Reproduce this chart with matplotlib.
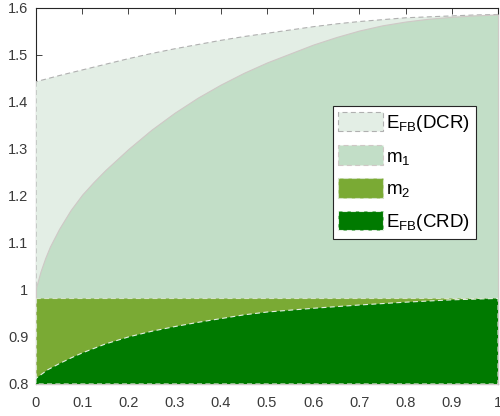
import numpy as np
import matplotlib
matplotlib.use("Agg")
import matplotlib.pyplot as plt
from matplotlib.patches import Patch

plt.rcParams['font.family'] = ['Liberation Sans', 'DejaVu Sans']
plt.rcParams['mathtext.fontset'] = 'custom'
plt.rcParams['mathtext.rm'] = 'Liberation Sans'
plt.rcParams['mathtext.it'] = 'Liberation Sans'

# ---- data ----
x_dcr = [0, 0.05, 0.1, 0.15, 0.2, 0.25, 0.3, 0.35, 0.4, 0.45, 0.5,
         0.55, 0.6, 0.65, 0.7, 0.75, 0.8, 0.85, 0.9, 0.95, 1.0]
e_dcr = [1.443, 1.456, 1.468, 1.480, 1.492, 1.503, 1.513, 1.522, 1.531, 1.539, 1.546,
         1.553, 1.560, 1.566, 1.571, 1.575, 1.579, 1.581, 1.583, 1.585, 1.586]

x_m1 = [0, 0.01, 0.02, 0.03, 0.05, 0.075, 0.1, 0.125, 0.15, 0.2, 0.25, 0.3, 0.35, 0.4,
        0.45, 0.5, 0.55, 0.6, 0.65, 0.7, 0.75, 0.8, 0.85, 0.9, 0.95, 1.0]
m1 = [1.005, 1.040, 1.068, 1.092, 1.130, 1.170, 1.203, 1.230, 1.255, 1.300, 1.341, 1.377,
      1.409, 1.437, 1.462, 1.484, 1.503, 1.522, 1.538, 1.552, 1.563, 1.571,
      1.577, 1.581, 1.584, 1.586]

x_m2 = [0, 1.0]
m2 = [0.983, 0.983]

x_crd = [0, 0.025, 0.05, 0.075, 0.1, 0.15, 0.2, 0.25, 0.3, 0.35, 0.4, 0.45,
         0.5, 0.6, 0.7, 0.8, 0.9, 1.0]
e_crd = [0.812, 0.830, 0.843, 0.855, 0.866, 0.885, 0.900, 0.912, 0.922, 0.931,
         0.939, 0.947, 0.953, 0.961, 0.968, 0.974, 0.979, 0.982]

labels = [r'$\mathregular{E_{FB}(DCR)}$', r'$\mathregular{m_1}$',
          r'$\mathregular{m_2}$', r'$\mathregular{E_{FB}(CRD)}$']
face_colors = ['#e3eee5', '#c2dec7', '#7aaa34', '#007a00']
edge_colors = ['#b0b0b0', '#cfc8c6', '#d5e2c8', '#e4efe4']
baseline = 0.8

fig = plt.figure(figsize=(5.0, 4.16), dpi=100)
ax = fig.add_axes([0.072, 0.077, 0.924, 0.904])

series = [(x_dcr, e_dcr), (x_m1, m1), (x_m2, m2), (x_crd, e_crd)]
for i, ((xs, ys), fc, ec) in enumerate(zip(series, face_colors, edge_colors)):
    ls = '-' if i == 1 else (0, (4.5, 3))
    ax.fill_between(xs, baseline, ys, facecolor=fc, edgecolor=ec,
                    linewidth=0.8, linestyle=ls, zorder=1 + i)

ax.set_xlim(0, 1)
ax.set_ylim(0.8, 1.6)
ax.set_xticks(np.arange(0, 1.01, 0.1))
ax.set_xticklabels(['0', '0.1', '0.2', '0.3', '0.4', '0.5', '0.6', '0.7', '0.8', '0.9', '1'])
ax.set_yticks(np.arange(0.8, 1.61, 0.1))
ax.set_yticklabels(['0.8', '0.9', '1', '1.1', '1.2', '1.3', '1.4', '1.5', '1.6'])

ax.set_axisbelow(True)
for s in ax.spines.values():
    s.set_zorder(0.5)
    s.set_color('#262626')
    s.set_linewidth(0.8)
ax.tick_params(direction='in', length=4.5, width=0.6, colors='#262626',
               labelsize=10.5, top=True, right=True)
ax.tick_params(axis='y', pad=5.5)
ax.tick_params(axis='x', pad=9)
for lab in ax.get_xticklabels() + ax.get_yticklabels():
    lab.set_color('#3a3a3a')

handles = [Patch(facecolor=fc, edgecolor=ec, linewidth=0.8, linestyle=(0, (4.5, 3)))
           for fc, ec in zip(face_colors, edge_colors)]
leg = ax.legend(handles, labels, loc='upper right', bbox_to_anchor=(0.952, 0.739),
                borderaxespad=0, fontsize=13.5, handlelength=2.4, handleheight=1.23,
                labelspacing=0.62, borderpad=0.3, handletextpad=0.15,
                fancybox=False, framealpha=1, edgecolor='#262626')
leg.get_frame().set_linewidth(0.8)
leg.set_zorder(10)

fig.savefig('out.png', dpi=100)
